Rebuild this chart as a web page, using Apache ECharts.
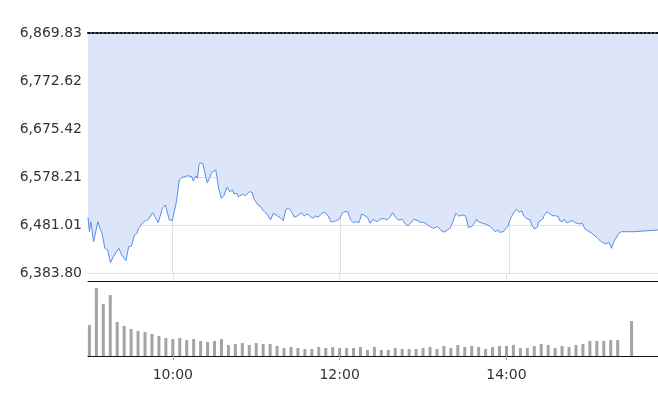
<!DOCTYPE html>
<html><head><meta charset="utf-8">
<script src="https://cdn.jsdelivr.net/npm/echarts@6/dist/echarts.min.js"></script>
<style>html,body{margin:0;padding:0;background:#fff}#c{width:658px;height:408px}</style>
</head><body><div id="c"></div>
<script>
// minutes after 09:00
const priceMinutes = [0,1,2,4,7,9,10,12,14,16,18,22,24,27,29,31,33,35,36,39,40,41,43,46,48,50,53,55,56,58,60,61,63,64,65,67,71,74,75,77,78,79,80,82,83,85,87,88,91,92,93,95,97,99,101,103,104,106,107,110,112,115,117,118,121,123,125,128,130,131,132,135,137,139,141,143,145,147,149,152,154,156,158,160,162,164,167,169,171,173,175,176,179,181,183,185,187,189,191,193,195,196,199,201,203,206,208,211,213,215,217,219,221,224,226,228,230,232,235,237,239,242,244,246,249,251,253,256,258,261,262,264,267,269,270,271,274,277,278,281,283,286,288,290,292,293,296,297,299,301,303,305,307,309,310,312,315,316,318,320,321,324,325,327,329,331,333,335,336,338,339,341,343,345,347,350,352,354,357,359,360,363,365,367,369,371,373,374,376,378,380,389,390,406];
const priceValues = [6496.6,6467.4,6487.7,6447.2,6487.7,6470.9,6464.8,6433.8,6430.4,6404.6,6416.8,6433.8,6420.2,6408.7,6437.0,6438.4,6460.7,6464.2,6474.3,6485.6,6484.4,6489.7,6492.5,6505.9,6495.8,6485.6,6514.8,6521.5,6511.4,6491.1,6489.7,6487.7,6528.2,6531.6,6572.1,6577.6,6580.8,6578.8,6570.1,6580.2,6575.6,6602.5,6607.1,6604.5,6588.9,6566.6,6578.8,6586.9,6592.4,6575.6,6555.3,6535.0,6541.7,6557.3,6548.4,6551.9,6543.8,6545.2,6538.3,6543.1,6540.3,6548.4,6547.2,6535.0,6521.5,6518.0,6509.3,6501.2,6491.1,6494.5,6504.7,6499.2,6495.8,6489.7,6512.8,6514.8,6507.9,6496.6,6499.2,6505.9,6499.2,6503.3,6499.2,6494.5,6499.2,6496.6,6505.9,6505.9,6499.2,6487.7,6487.7,6491.1,6492.5,6504.7,6508.1,6508.1,6491.1,6485.6,6487.7,6485.6,6503.3,6501.2,6496.6,6484.4,6492.5,6487.7,6492.5,6494.5,6491.1,6496.6,6505.9,6496.6,6491.1,6492.5,6483.0,6479.6,6485.6,6492.5,6489.7,6486.4,6486.4,6481.0,6477.5,6474.3,6477.5,6472.3,6466.2,6470.9,6474.3,6496.6,6504.7,6499.2,6501.2,6499.2,6501.2,6475.5,6479.6,6492.5,6487.7,6484.4,6483.0,6479.0,6474.3,6467.4,6470.9,6466.2,6467.4,6472.3,6477.5,6494.5,6504.7,6512.8,6506.7,6509.9,6501.2,6494.5,6491.1,6481.0,6472.9,6476.3,6487.7,6493.1,6501.2,6507.9,6503.3,6499.8,6499.8,6497.8,6489.7,6487.7,6492.5,6485.6,6487.7,6489.7,6485.6,6483.0,6484.4,6472.9,6467.4,6464.2,6465.4,6454.0,6448.6,6445.1,6442.5,6445.9,6433.8,6443.9,6454.0,6464.2,6467.4,6467.4,6470.9,6470.9];
const volumeTimes = ['09:00','09:05','09:10','09:15','09:20','09:25','09:30','09:35','09:40','09:45','09:50','09:55','10:00','10:05','10:10','10:15','10:20','10:25','10:30','10:35','10:40','10:45','10:50','10:55','11:00','11:05','11:10','11:15','11:20','11:25','11:30','11:35','11:40','11:45','11:50','11:55','12:00','12:05','12:10','12:15','12:20','12:25','12:30','12:35','12:40','12:45','12:50','12:55','13:00','13:05','13:10','13:15','13:20','13:25','13:30','13:35','13:40','13:45','13:50','13:55','14:00','14:05','14:10','14:15','14:20','14:25','14:30','14:35','14:40','14:45','14:50','14:55','15:00','15:05','15:10','15:15','15:20','15:25','15:30'];
const volumeValues = [31,68,52,61,34,30,27,25,24,22,20,18,17,18,16,17,15,14,15,17,11,12,13,11,13,12,12,10,8,9,8,7,7,9,8,9,8,8,8,9,6,9,6,6,8,7,7,7,8,9,7,10,8,11,9,10,9,7,9,10,10,11,8,8,10,12,11,8,10,9,11,12,15,15,15,16,16,0,35];
const tickLabels = ['10:00','12:00','14:00'];
const yTop = 6869.83, yBottom = 6383.80;

function hhmm(m){const t=540+m;return String(Math.floor(t/60)).padStart(2,'0')+':'+String(t%60).padStart(2,'0');}
const priceCats=[];for(let m=0;m<=406;m++)priceCats.push(hhmm(m));
const volCats=[];for(let m=-1;m<=409;m++)volCats.push(hhmm(m));
const pick=(i,v)=>tickLabels.includes(v);
const font='DejaVu Sans';

const chart=echarts.init(document.getElementById('c'));
chart.setOption({
  animation:false,
  grid:[{left:88,right:0,top:33,height:240},{left:88,right:0,top:281,height:75}],
  xAxis:[
    {gridIndex:0,type:'category',data:priceCats,boundaryGap:false,position:'bottom',
     axisLine:{show:false},axisTick:{show:false},axisLabel:{show:false},
     splitLine:{show:true,interval:pick,lineStyle:{color:'#e2e2e2',width:1}}},
    {gridIndex:0,type:'category',data:priceCats,boundaryGap:false,position:'top',z:5,
     axisLine:{show:true,lineStyle:{color:'#111',width:2,type:[2,2]}},
     axisTick:{show:false},axisLabel:{show:false},splitLine:{show:false}},
    {gridIndex:1,type:'category',data:volCats,boundaryGap:false,position:'bottom',
     axisLine:{show:true,lineStyle:{color:'#111',width:1}},
     axisTick:{show:true,interval:pick,length:4,lineStyle:{color:'#aaa'}},
     axisLabel:{show:true,interval:pick,margin:12,fontSize:14,fontFamily:font,color:'#333'},
     splitLine:{show:false}},
    {gridIndex:1,type:'category',data:volCats,boundaryGap:false,position:'top',
     axisLine:{show:true,lineStyle:{color:'#111',width:1}},
     axisTick:{show:true,interval:pick,length:8,lineStyle:{color:'#e2e2e2'}},
     axisLabel:{show:false},splitLine:{show:false}}
  ],
  yAxis:[
    {gridIndex:0,type:'value',min:yBottom,max:yTop,interval:(yTop-yBottom)/5,
     axisLine:{show:false},axisTick:{show:false},
     axisLabel:{margin:6,fontSize:14,fontFamily:font,color:'#333',
       formatter:v=>v.toLocaleString('en-US',{minimumFractionDigits:2,maximumFractionDigits:2})},
     splitLine:{show:true,lineStyle:{color:'#e2e2e2'}}},
    {gridIndex:1,type:'value',min:0,max:75,show:false,splitLine:{show:false}}
  ],
  series:[
    {type:'line',xAxisIndex:0,yAxisIndex:0,symbol:'none',showSymbol:false,
     data:priceMinutes.map((m,i)=>[hhmm(m),priceValues[i]]),
     lineStyle:{color:'#5a8de8',width:1},
     areaStyle:{origin:'end',color:'#dce6f8',opacity:1}},
    {type:'bar',xAxisIndex:2,yAxisIndex:1,barWidth:3,
     data:volumeTimes.map((t,i)=>[t,volumeValues[i]]),
     itemStyle:{color:'#a4a4a4'}}
  ]
});
</script></body></html>
